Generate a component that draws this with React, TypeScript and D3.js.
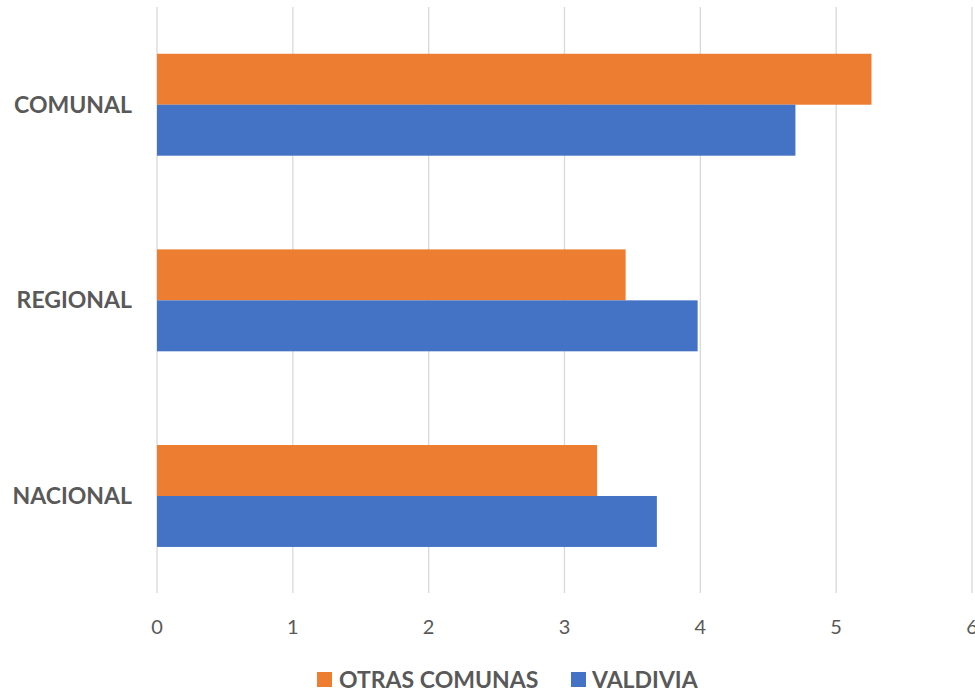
import React from "react";
import * as d3 from "d3";

const categories = ["COMUNAL", "REGIONAL", "NACIONAL"];
const seriesNames = ["OTRAS COMUNAS", "VALDIVIA"];
const otrasComunas = [5.26, 3.45, 3.24];
const valdivia = [4.7, 3.98, 3.68];
const xTicks = [0, 1, 2, 3, 4, 5, 6];
const colors = ["#ED7D31", "#4472C4"];

const W = 975;
const H = 694;
const FONT = "Lato, 'Open Sans', sans-serif";

export default function App() {
  const x = d3.scaleLinear().domain([0, 6]).range([157, 972]);
  const y = d3
    .scaleBand<string>()
    .domain(categories)
    .range([6.9, 593.8])
    .paddingInner(0.479)
    .paddingOuter(0.2395);
  const inner = d3.scaleBand<string>().domain(seriesNames).range([0, y.bandwidth()]);
  const series = [otrasComunas, valdivia];

  return (
    <svg
      width={W}
      height={H}
      style={{ position: "absolute", left: 0, top: 0, background: "#fff" }}
    >
      <rect x={0} y={0} width={W} height={H} fill="#fff" />
      {xTicks.map((t) => (
        <line
          key={"g" + t}
          x1={x(t)}
          x2={x(t)}
          y1={7}
          y2={593}
          stroke="#d9d9d9"
          strokeWidth={1.3}
        />
      ))}
      {categories.map((c, i) =>
        series.map((s, j) => (
          <rect
            key={c + j}
            x={x(0)}
            y={(y(c) as number) + (inner(seriesNames[j]) as number)}
            width={x(s[i]) - x(0)}
            height={inner.bandwidth()}
            fill={colors[j]}
          />
        ))
      )}
      {categories.map((c) => (
        <text
          key={"l" + c}
          x={132}
          y={(y(c) as number) + y.bandwidth() / 2}
          dy="0.35em"
          textAnchor="end"
          fontFamily={FONT}
          fontWeight="bold"
          fontSize={23}
          fill="#595959"
        >
          {c}
        </text>
      ))}
      {xTicks.map((t) => (
        <text
          key={"t" + t}
          x={x(t)}
          y={627}
          dy="0.35em"
          textAnchor="middle"
          fontFamily={FONT}
          fontSize={20}
          fill="#595959"
        >
          {t}
        </text>
      ))}
      <g>
        <rect x={317} y={672} width={15} height={15} fill={colors[0]} />
        <text
          x={339}
          y={680}
          dy="0.35em"
          fontFamily={FONT}
          fontWeight="bold"
          fontSize={23}
          fill="#595959"
        >
          {seriesNames[0]}
        </text>
        <rect x={571} y={672} width={15} height={15} fill={colors[1]} />
        <text
          x={592}
          y={680}
          dy="0.35em"
          fontFamily={FONT}
          fontWeight="bold"
          fontSize={23}
          fill="#595959"
        >
          {seriesNames[1]}
        </text>
      </g>
    </svg>
  );
}
